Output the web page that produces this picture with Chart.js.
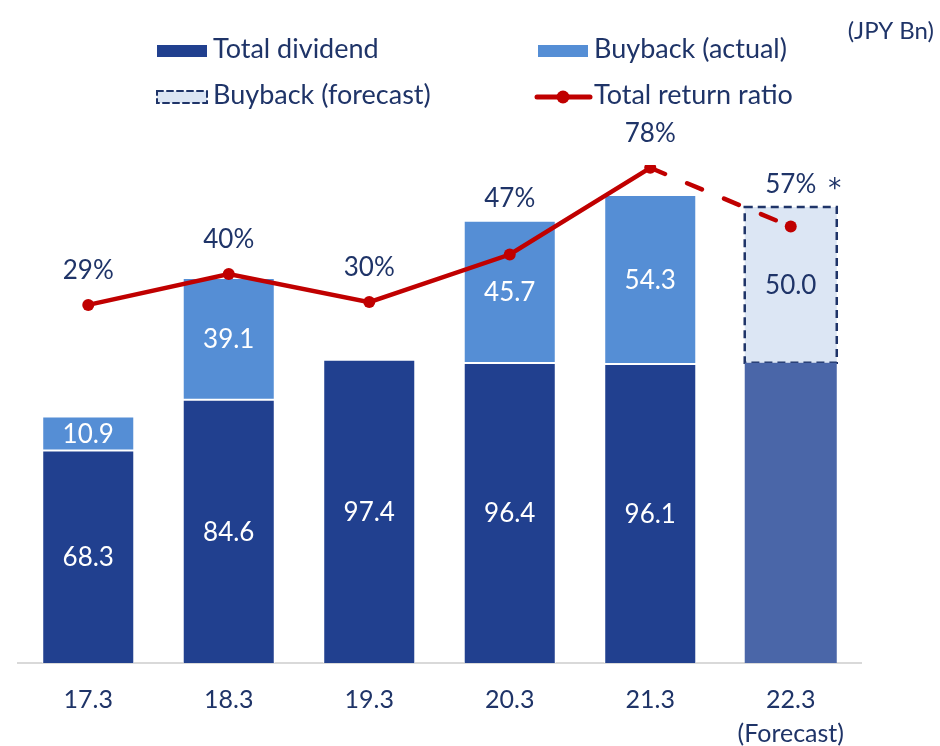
<!DOCTYPE html>
<html>
<head>
<meta charset="utf-8">
<script src="https://cdn.jsdelivr.net/npm/chart.js@4.4.1/dist/chart.umd.min.js"></script>
<style>
  html, body { margin: 0; padding: 0; background: #fff; }
  #wrap { width: 940px; height: 746px; }
</style>
</head>
<body>
<div id="wrap"><canvas id="returnChart" width="940" height="746"></canvas></div>
<script>
// Fiscal years (March year-end), last one is the plan
const years = ['17.3', '18.3', '19.3', '20.3', '21.3', '22.3'];
const forecastNote = '(Forecast)';

// Shareholder returns, JPY Bn
const totalDividend    = [68.3, 84.6, 97.4, 96.4, 96.1, null];
const dividendForecast = [null, null, null, null, null, 96.5];
const buybackActual    = [10.9, 39.1, null, 45.7, 54.3, null];
const buybackForecast  = [null, null, null, null, null, 50.0];

// Total return ratio, %
const returnRatio = [29, 40, 30, 47, 78, 57];
const ratioNotes  = ['', '', '', '', '', '*'];

const NAVY = '#1F3468';
const RED = '#C00000';
const FONT = 'Lato, "Open Sans", sans-serif';
const lastIdx = years.length - 1;

const labels = years.map((y, i) => i === lastIdx ? [y, forecastNote] : y);

function stackTotal(i) {
  return [totalDividend, dividendForecast, buybackActual, buybackForecast]
    .reduce((sum, arr) => sum + (arr[i] || 0), 0);
}

// dashed frame around the planned buyback bar (bars have no borderDash)
const dashedOutline = {
  id: 'dashedOutline',
  afterDatasetDraw(chart, args) {
    const ds = chart.data.datasets[args.index];
    if (!ds.outline) return;
    const ctx = chart.ctx;
    ctx.save();
    ctx.strokeStyle = ds.outline.color;
    ctx.lineWidth = ds.outline.width;
    ctx.setLineDash(ds.outline.dash);
    args.meta.data.forEach((el, i) => {
      if (ds.data[i] == null) return;
      const { x, y, base, width } = el.getProps(['x', 'y', 'base', 'width'], true);
      ctx.strokeRect(x - width / 2, y, width, base - y);
    });
    ctx.restore();
  }
};

// numbers inside bars + ratio above each point
const valueLabels = {
  id: 'valueLabels',
  afterDatasetsDraw(chart) {
    const ctx = chart.ctx;
    ctx.save();
    ctx.font = `26px ${FONT}`;
    ctx.textAlign = 'center';
    ctx.textBaseline = 'alphabetic';

    chart.data.datasets.forEach((ds, di) => {
      if (!ds.valueColor) return;
      chart.getDatasetMeta(di).data.forEach((el, i) => {
        const v = ds.data[i];
        if (v == null) return;
        const { x, y, base } = el.getProps(['x', 'y', 'base'], true);
        ctx.fillStyle = ds.valueColor;
        ctx.fillText(v.toFixed(1), x, (y + base) / 2 + 9.5);
      });
    });

    const yScale = chart.scales.y;
    const lineIdx = chart.data.datasets.findIndex(d => d.type === 'line');
    ctx.fillStyle = NAVY;
    chart.getDatasetMeta(lineIdx).data.forEach((pt, i) => {
      const barTop = yScale.getPixelForValue(stackTotal(i));
      const baseline = Math.min(pt.y - 26, barTop - 14);
      const text = returnRatio[i] + '%';
      ctx.font = `26px ${FONT}`;
      ctx.textAlign = 'center';
      ctx.fillText(text, pt.x, baseline);
      if (ratioNotes[i]) {
        const w = ctx.measureText(text).width;
        ctx.font = '26px "DejaVu Sans", sans-serif';
        ctx.textAlign = 'left';
        ctx.fillText(ratioNotes[i], pt.x + w / 2 + 12, baseline + 4);
      }
    });
    ctx.restore();
  }
};

// two-column legend and unit note at the top
const gridLegend = {
  id: 'gridLegend',
  afterDraw(chart) {
    const slots = [[157, 51], [538, 51], [157, 97], [538, 97]];
    const ctx = chart.ctx;
    ctx.save();
    chart.data.datasets.forEach(ds => {
      if (ds.legendSlot == null) return;
      const [x, y] = slots[ds.legendSlot];
      if (ds.type === 'line') {
        ctx.strokeStyle = ds.borderColor;
        ctx.lineWidth = 5;
        ctx.lineCap = 'round';
        ctx.beginPath();
        ctx.moveTo(x - 1, y);
        ctx.lineTo(x + 52, y);
        ctx.stroke();
        ctx.fillStyle = ds.borderColor;
        ctx.beginPath();
        ctx.arc(x + 25, y, 6.5, 0, Math.PI * 2);
        ctx.fill();
      } else {
        ctx.fillStyle = ds.backgroundColor;
        ctx.fillRect(x, y - 6, 50, 12);
        if (ds.outline) {
          ctx.strokeStyle = ds.outline.color;
          ctx.lineWidth = 2;
          ctx.setLineDash([6, 4]);
          ctx.strokeRect(x, y - 6, 50, 12);
          ctx.setLineDash([]);
        }
      }
      ctx.fillStyle = NAVY;
      ctx.font = `27px ${FONT}`;
      ctx.textAlign = 'left';
      ctx.textBaseline = 'alphabetic';
      ctx.fillText(ds.label, x + 56, y + 7);
    });

    ctx.font = `24px ${FONT}`;
    ctx.textAlign = 'right';
    ctx.fillStyle = NAVY;
    ctx.fillText('(JPY Bn)', 934, 39);
    ctx.restore();
  }
};

const barCommon = {
  stack: 'returns',
  order: 1,
  barPercentage: 0.655,
  categoryPercentage: 1.0
};

new Chart(document.getElementById('returnChart'), {
  data: {
    labels,
    datasets: [
      {
        type: 'line',
        label: 'Total return ratio',
        data: returnRatio,
        yAxisID: 'y2',
        order: 0,
        legendSlot: 3,
        borderColor: RED,
        backgroundColor: RED,
        borderWidth: 4.5,
        borderCapStyle: 'round',
        pointRadius: 6,
        pointHoverRadius: 6,
        pointBorderWidth: 0,
        tension: 0,
        segment: {
          borderDash: c => c.p1DataIndex === lastIdx ? [16, 24] : undefined
        }
      },
      {
        ...barCommon,
        type: 'bar',
        label: 'Total dividend',
        data: totalDividend,
        legendSlot: 0,
        valueColor: '#FFFFFF',
        backgroundColor: '#21408F',
        borderColor: '#FFFFFF',
        borderWidth: 1
      },
      {
        ...barCommon,
        type: 'bar',
        label: 'Total dividend (forecast)',
        data: dividendForecast,
        backgroundColor: '#4A66A8',
        borderWidth: 0
      },
      {
        ...barCommon,
        type: 'bar',
        label: 'Buyback (actual)',
        data: buybackActual,
        legendSlot: 1,
        valueColor: '#FFFFFF',
        backgroundColor: '#558ED5',
        borderColor: '#FFFFFF',
        borderWidth: 1,
        borderSkipped: false
      },
      {
        ...barCommon,
        type: 'bar',
        label: 'Buyback (forecast)',
        data: buybackForecast,
        legendSlot: 2,
        valueColor: NAVY,
        backgroundColor: '#DCE6F4',
        borderWidth: 0,
        outline: { color: '#1F3468', width: 2.5, dash: [8, 5] }
      }
    ]
  },
  options: {
    responsive: false,
    animation: false,
    layout: { padding: { top: 165, left: 18, right: 79, bottom: 0 } },
    plugins: {
      legend: { display: false },
      tooltip: { enabled: false },
      title: { display: false }
    },
    scales: {
      x: {
        stacked: true,
        grid: { display: false, drawTicks: false },
        border: { display: true, color: '#D9D9D9', width: 2 },
        ticks: {
          color: NAVY,
          font: { family: FONT, size: 25, lineHeight: '34px' },
          padding: 20,
          maxRotation: 0,
          autoSkip: false
        },
        afterFit(scale) { scale.height = 83; }
      },
      y: { stacked: true, display: false, min: 0, max: 160 },
      y2: { display: false, min: -99, max: 79 }
    }
  },
  plugins: [dashedOutline, valueLabels, gridLegend]
});
</script>
</body>
</html>
